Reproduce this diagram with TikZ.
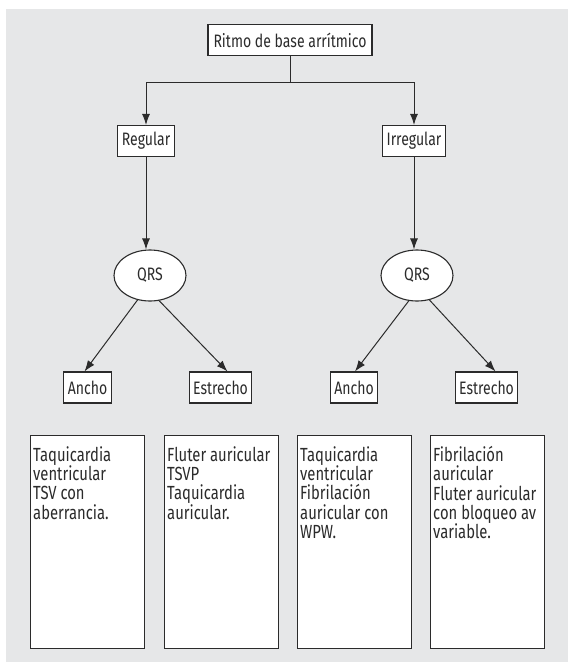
\documentclass[tikz,border=0pt]{standalone}
\usepackage{fontspec}
\setmainfont[FakeStretch=0.78]{Fira Sans}
\usetikzlibrary{arrows.meta,shapes.geometric,calc}
\definecolor{bggray}{HTML}{E6E7E8}
\definecolor{ink}{HTML}{2B2B2B}
\begin{document}
\begin{tikzpicture}[x=1pt,y=-1pt,
  every node/.style={font=\fontsize{18}{19}\selectfont,text=ink},
  box/.style={draw=ink,line width=1.1pt,fill=white,inner xsep=4pt,inner ysep=0pt,minimum height=31pt},
  oval/.style={draw=ink,line width=1.1pt,fill=white,ellipse,minimum width=72pt,minimum height=51pt,inner sep=0pt},
  tall/.style={draw=ink,line width=1.2pt,fill=white,minimum width=114pt,minimum height=213pt,inner sep=0pt},
  txt/.style={anchor=north west,align=left,inner sep=0pt,font=\fontsize{19}{19.3}\selectfont},
  arr/.style={draw=ink,line width=1pt,-{Latex[length=11pt,width=8pt]}},
  ln/.style={draw=ink,line width=1pt}]
\useasboundingbox (0,0) rectangle (568,662);
\fill[bggray] (6,9) rectangle (568,662);

\node[box,minimum width=164pt] (top) at (290,40) {Ritmo de base arrítmico};
\node[box] (reg) at (146,141) {Regular};
\node[box] (irr) at (414,141) {Irregular};
\node[oval] (q1) at (150,275.5) {QRS};
\node[oval] (q2) at (417,275.5) {QRS};
\node[box] (a1) at (87.5,387.5) {Ancho};
\node[box] (e1) at (220.5,387.5) {Estrecho};
\node[box] (a2) at (354,387.5) {Ancho};
\node[box] (e2) at (486.5,387.5) {Estrecho};

\coordinate (split) at (290,82);
\draw[ln] (top.south) -- (split);
\draw[arr] (split) -| (reg.north);
\draw[arr] (split) -| (irr.north);
\draw[arr] (reg.south) -- (reg.south |- q1.north);
\draw[arr] (irr.south) -- (irr.south |- q2.north);
\draw[arr] (q1.-117) -- ($(a1.north)+(-3,0)$);
\draw[arr] (q1.-70) -- ($(e1.north)+(7,0)$);
\draw[arr] (q2.-108) -- ($(a2.north)+(1,0)$);
\draw[arr] (q2.-63) -- ($(e2.north)+(9,0)$);

\node[tall,anchor=north west] (b1) at (30,435) {};
\node[tall,anchor=north west] (b2) at (164,435) {};
\node[tall,anchor=north west] (b3) at (297,435) {};
\node[tall,anchor=north west] (b4) at (430,435) {};

\node[txt] (t1) at ($(b1.north west)+(3,11)$) {\rule{0pt}{15pt}Taquicardia\\ventricular\\TSV con\\aberrancia.};
\node[txt] (t2) at ($(b2.north west)+(3,11)$) {\rule{0pt}{15pt}Fluter auricular\\TSVP\\Taquicardia\\auricular.};
\node[txt] (t3) at ($(b3.north west)+(3,11)$) {\rule{0pt}{15pt}Taquicardia\\ventricular\\Fibrilación\\auricular con\\WPW.};
\node[txt] (t4) at ($(b4.north west)+(3,11)$) {\rule{0pt}{15pt}Fibrilación\\auricular\\Fluter auricular\\con bloqueo av\\variable.};
\end{tikzpicture}
\end{document}
